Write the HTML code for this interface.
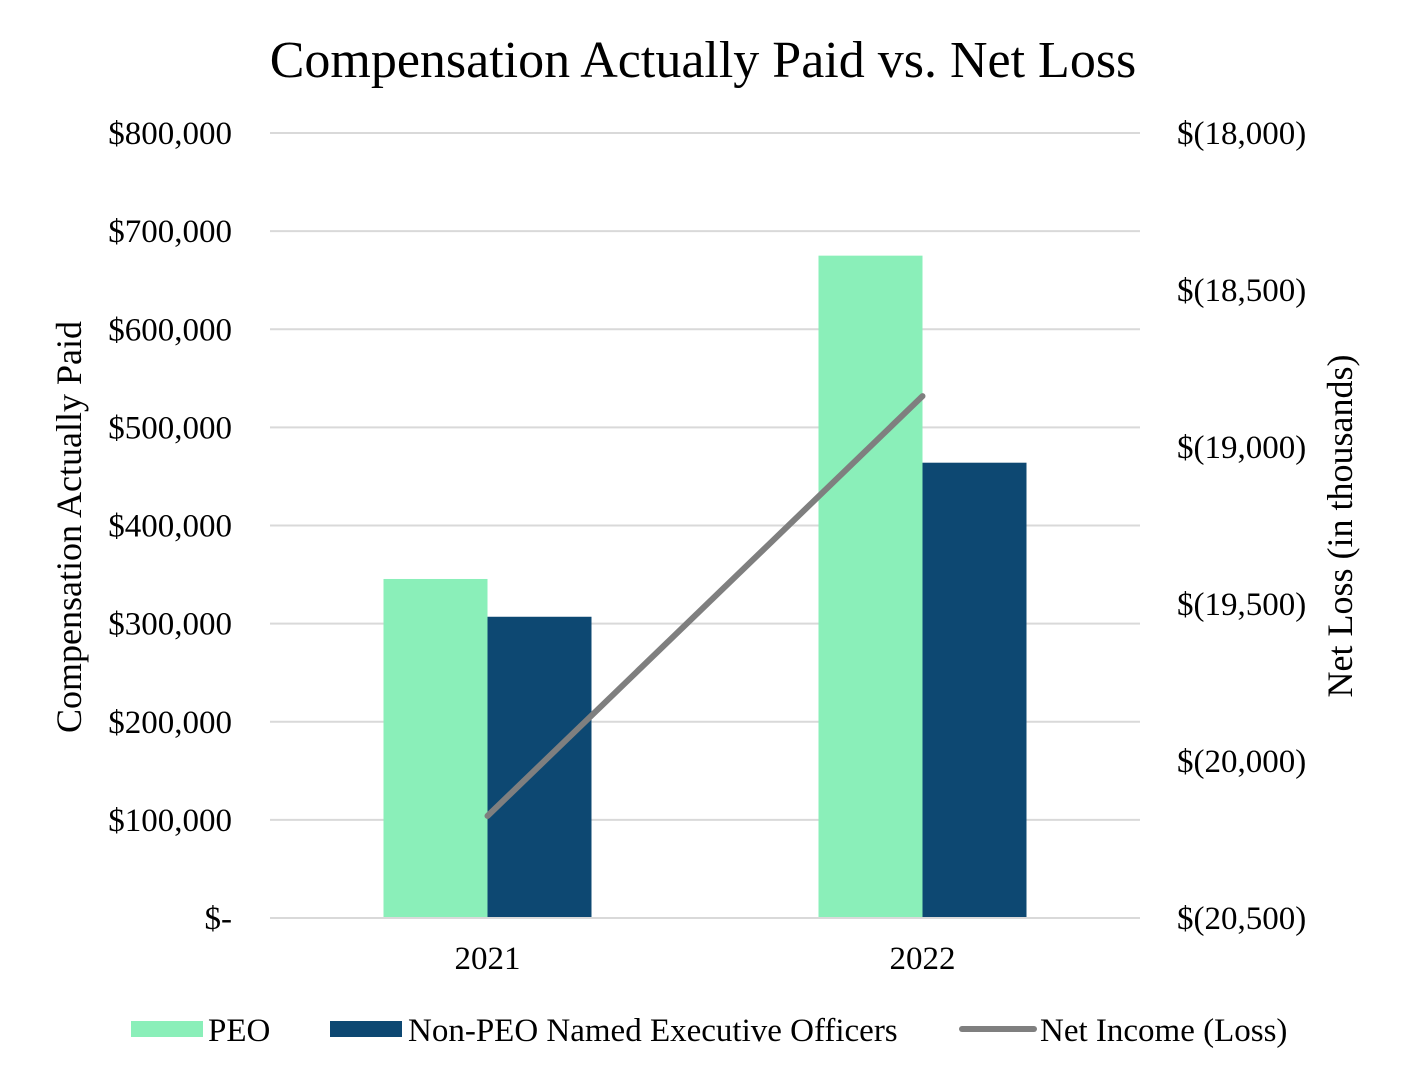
<!DOCTYPE html>
<html><head><meta charset="utf-8"><style>
html,body{margin:0;padding:0;background:#fff;}
svg{display:block;font-family:"Liberation Serif",serif;}
</style></head><body>
<svg id="chart" width="1407" height="1081" viewBox="0 0 1407 1081" xmlns="http://www.w3.org/2000/svg">
<text x="703" y="77" font-size="52" text-anchor="middle" fill="#000">Compensation Actually Paid vs. Net Loss</text>
<g id="grid"></g>
<g id="bars"></g>
<g id="line"></g>
<g id="ticks"></g>
<text transform="translate(81,527) rotate(-90)" font-size="36" text-anchor="middle">Compensation Actually Paid</text>
<text transform="translate(1352,526) rotate(-90)" font-size="36" text-anchor="middle">Net Loss (in thousands)</text>
<g>
<g><rect x="131" y="1021" width="72" height="16" fill="#8aefb9"/><text x="208" y="1041" font-size="33">PEO</text></g>
<g><rect x="330" y="1021" width="72" height="16" fill="#0d4872"/><text x="408" y="1041" font-size="33">Non-PEO Named Executive Officers</text></g>
<g><line x1="962" y1="1029" x2="1034" y2="1029" stroke="#7f7f7f" stroke-width="6" stroke-linecap="round"/><text x="1040" y="1041" font-size="33">Net Income (Loss)</text></g>
</g>
</svg>
<script>
const categories = ["2021", "2022"];
const peoValues = [345500, 675000];
const nonPeoValues = [307000, 464000];
const netLoss = [-20175, -18838];
const leftTicks = [0, 100000, 200000, 300000, 400000, 500000, 600000, 700000, 800000];
const leftTickLabels = ["$-", "$100,000", "$200,000", "$300,000", "$400,000", "$500,000", "$600,000", "$700,000", "$800,000"];
const rightTicks = [-20500, -20000, -19500, -19000, -18500, -18000];
const rightTickLabels = ["$(20,500)", "$(20,000)", "$(19,500)", "$(19,000)", "$(18,500)", "$(18,000)"];

const NS = "http://www.w3.org/2000/svg";
const X0 = 270, X1 = 1140, YT = 133, YB = 918;
const yL = v => YB - (v - 0) / 800000 * (YB - YT);
const yR = v => YB - (v - (-20500)) / 2500 * (YB - YT);
const band = (X1 - X0) / categories.length;
const xC = i => X0 + band * (i + 0.5);
const BW = 104;
function mk(tag, attrs, parent) { const e = document.createElementNS(NS, tag); for (const k in attrs) e.setAttribute(k, attrs[k]); parent.appendChild(e); return e; }

const grid = document.getElementById("grid");
const ticks = document.getElementById("ticks");
leftTicks.forEach((t, i) => {
  const l = mk("line", {x1: X0, x2: X1, y1: yL(t), y2: yL(t), stroke: "#d9d9d9", "stroke-width": 2}, grid);
  
  
  const tx = mk("text", {x: 232, y: yL(t) + 11, "font-size": 33, "text-anchor": "end"}, ticks);
  tx.textContent = leftTickLabels[i];
  
  
});
rightTicks.forEach((t, i) => {
  const tx = mk("text", {x: 1177, y: yR(t) + 11, "font-size": 33}, ticks);
  tx.textContent = rightTickLabels[i];
  
  
});
categories.forEach((c, i) => {
  const tx = mk("text", {x: xC(i), y: 969, "font-size": 33, "text-anchor": "middle"}, ticks);
  tx.textContent = c;
  
  
});

const bars = document.getElementById("bars");
categories.forEach((c, i) => {
  const b1 = mk("rect", {x: xC(i) - BW, y: yL(peoValues[i]), width: BW, height: YB - yL(peoValues[i]), fill: "#8aefb9"}, bars);
  
  
  const b2 = mk("rect", {x: xC(i), y: yL(nonPeoValues[i]), width: BW, height: YB - yL(nonPeoValues[i]), fill: "#0d4872"}, bars);
  
  
});
const base = mk("line", {x1: X0, x2: X1, y1: YB, y2: YB, stroke: "#d9d9d9", "stroke-width": 2}, bars);



const lineG = document.getElementById("line");
const pts = netLoss.map((v, i) => xC(i) + "," + yR(v)).join(" ");
const pl = mk("polyline", {points: pts, fill: "none", stroke: "#7f7f7f", "stroke-width": 6, "stroke-linecap": "round"}, lineG);


</script>
</body></html>
